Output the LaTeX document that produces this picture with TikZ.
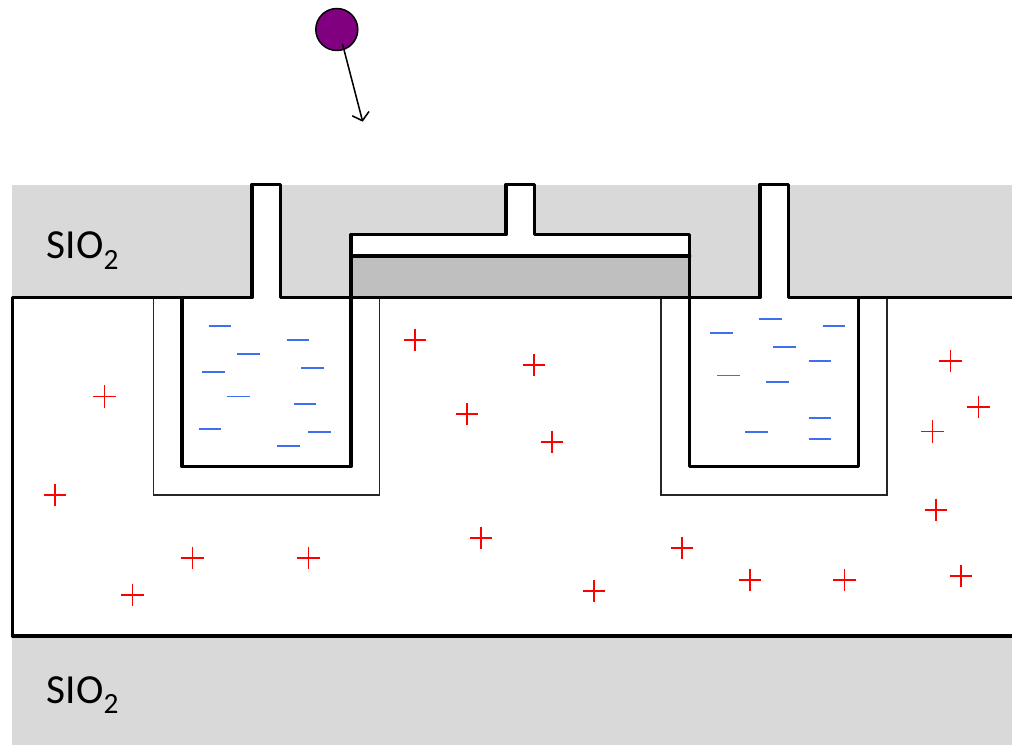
\documentclass[tikz,border=0pt]{standalone}
\usepackage{fontspec}
\setmainfont{Carlito}
\usetikzlibrary{arrows.meta}
\definecolor{oxide}{HTML}{D9D9D9}
\definecolor{gatefill}{HTML}{BFBFBF}
\definecolor{particle}{HTML}{800080}
\definecolor{electron}{HTML}{3E6FF0}
\tikzset{
  wall/.style={line width=2.5pt,line join=round,line cap=round},
  halo/.style={line width=1pt,black!85,line join=miter},
  minussign/.pic={\draw[electron,line width=1.2pt] (-11.3,0) -- (11.3,0);},
  plussign/.pic={\draw[red,line width=1.15pt] (-11.3,0) -- (11.3,0) (0,-11.3) -- (0,11.3);},
  oxidelabel/.style={inner sep=0pt,anchor=base west,font=\fontsize{31pt}{32pt}\selectfont}
}
\newcommand{\oxtext}{SIO\raisebox{-8pt}{\fontsize{22pt}{24pt}\selectfont 2}}
\begin{document}
\begin{tikzpicture}[x=0.75pt,y=-0.75pt]
\useasboundingbox (0,0) rectangle (1012,745);
% oxide layers
\fill[oxide] (12,185) rectangle (1012,297.5);
\fill[oxide] (12,636) rectangle (1012,745);
% gate and contact openings
\fill[gatefill] (351,256) rectangle (689.7,297.5);
\fill[white] (351,234.5) rectangle (689.7,256);
\fill[white] (252,184.5) rectangle (280.7,298);
\fill[white] (506,184.5) rectangle (534.7,235);
\fill[white] (760,184.5) rectangle (788.2,298);
% implanted halo regions
\draw[halo] (153.5,297.5) -- (153.5,495) -- (379.5,495) -- (379.5,297.5);
\draw[halo] (661,297.5) -- (661,495) -- (887,495) -- (887,297.5);
% silicon outline and contacts
\draw[wall,line cap=butt] (1012,636) -- (12.3,636) -- (12.3,297.7) -- (252,297.7) -- (252,184.5) -- (280.7,184.5) -- (280.7,297.7)
  -- (760,297.7) -- (760,184.5) -- (788.2,184.5) -- (788.2,297.7) -- (1012,297.7);
% gate stack
\draw[wall] (351,297.5) -- (351,234.5) -- (506,234.5) -- (506,184.5) -- (534.7,184.5) -- (534.7,234.5) -- (689.7,234.5) -- (689.7,297.5);
\draw[wall] (351,256) -- (689.7,256);
% wells
\draw[wall] (182,297.5) -- (182,466.5) -- (351,466.5) -- (351,297.5);
\draw[wall] (689.7,297.5) -- (689.7,466.5) -- (858.5,466.5) -- (858.5,297.5);
% labels
\node[oxidelabel] (oxtop) at (46.5,258.5) {\oxtext};
\node[oxidelabel] (oxbottom) at (46.5,703) {\oxtext};
% electrons, left well
\foreach \p/\q in {220/325.7,298/339.7,248.7/354,213.3/371.7,312.3/368,238.7/396.3,305/403.7,210/428.7,319.3/431.7,288.7/445.7}
  \pic at (\p,\q) {minussign};
% electrons, right well
\foreach \p/\q in {770.7/318.7,834/325.7,721.3/332.7,784.7/347,820/361,728.3/375.3,777.7/382,820/417.7,756.3/431.7,820/438.7}
  \pic at (\p,\q) {minussign};
% holes
\foreach \p/\q in {104.3/396.5,415/340,534/365,467/414,552/442,950.3/361,978.7/407,932.7/431.7,55/495,936/510,481/538,682/548,192.5/558,308.5/558,132.5/595,594/591,750/580,844.5/580,961/576}
  \pic at (\p,\q) {plussign};
% incident particle
\node[circle,draw=black,fill=particle,line width=1.1pt,minimum size=31.5pt,inner sep=0pt] (ion) at (336.8,29.5) {};
\coordinate (ionstart) at (342.5,44);
\coordinate (ionend) at (362.7,121.7);
\draw[line width=1.15pt,-{Straight Barb[length=5.5pt,width=13pt,line width=1.15pt]}] (ionstart) -- (ionend);
\end{tikzpicture}
\end{document}
